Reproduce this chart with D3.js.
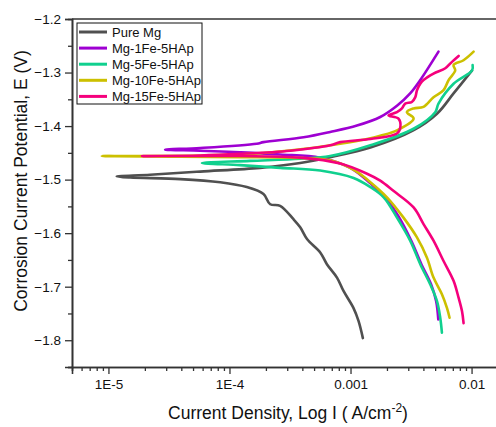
<!DOCTYPE html>
<html>
<head>
<meta charset="utf-8">
<script src="https://cdn.jsdelivr.net/npm/d3@7"></script>
<style>
  body { margin: 0; background: #fff; }
  svg { display: block; font-family: "Liberation Sans", Arial, sans-serif; }
</style>
</head>
<body>
<svg id="chart" width="496" height="427"></svg>
<script>
// series: [current density (A/cm2), potential (V)], cathodic end -> Ecorr -> anodic end
const seriesNames = ['Pure Mg', 'Mg-1Fe-5HAp', 'Mg-5Fe-5HAp', 'Mg-10Fe-5HAp', 'Mg-15Fe-5HAp'];
const seriesColors = ['#505050', '#9e00d2', '#10d08e', '#ccc000', '#f5007c'];

const pureMg = [
  [1.265e-3, -1.796], [1.164e-3, -1.764], [1.059e-3, -1.740], [8.75e-4, -1.708],
  [7.73e-4, -1.683], [6.38e-4, -1.658], [5.62e-4, -1.636], [4.37e-4, -1.611],
  [3.84e-4, -1.589], [3.38e-4, -1.574], [2.62e-4, -1.549], [2.17e-4, -1.546],
  [1.91e-4, -1.527], [1.39e-4, -1.514], [8.38e-5, -1.505], [3.92e-5, -1.499],
  [1.51e-5, -1.496], [1.17e-5, -1.494],
  [2.21e-5, -1.491], [5.73e-5, -1.485], [1.79e-4, -1.478], [3.84e-4, -1.469],
  [6.79e-4, -1.458], [1.46e-3, -1.440], [3.30e-3, -1.408], [5.18e-3, -1.377],
  [7.10e-3, -1.339], [1.01e-2, -1.296]
];

const mg1Fe = [
  [5.31e-3, -1.761], [5.10e-3, -1.727], [4.62e-3, -1.695], [3.85e-3, -1.658],
  [3.17e-3, -1.614], [2.48e-3, -1.568], [1.92e-3, -1.532], [1.46e-3, -1.507],
  [9.95e-4, -1.478], [5.62e-4, -1.459], [2.62e-4, -1.453], [1.22e-4, -1.449],
  [5.73e-5, -1.446], [2.94e-5, -1.444],
  [5.73e-5, -1.441], [1.68e-4, -1.433], [1.91e-4, -1.430], [4.09e-4, -1.421],
  [6.79e-4, -1.411], [1.13e-3, -1.399], [1.76e-3, -1.383], [2.42e-3, -1.362],
  [3.11e-3, -1.339], [3.77e-3, -1.314], [5.33e-3, -1.261]
];

const mg5Fe = [
  [5.69e-3, -1.786], [5.51e-3, -1.758], [5.18e-3, -1.727], [4.56e-3, -1.696],
  [3.77e-3, -1.658], [3.11e-3, -1.614], [2.42e-3, -1.571], [1.88e-3, -1.533],
  [1.46e-3, -1.514], [1.06e-3, -1.497], [5.62e-4, -1.483], [2.62e-4, -1.478],
  [1.22e-4, -1.473], [5.92e-5, -1.469],
  [1.48e-4, -1.465], [3.84e-4, -1.461], [6.79e-4, -1.456], [1.46e-3, -1.436],
  [3.32e-3, -1.405], [5.01e-3, -1.374], [5.33e-3, -1.358], [7.10e-3, -1.321],
  [1.01e-2, -1.296], [1.02e-2, -1.286]
];

const mg10Fe = [
  [6.58e-3, -1.758], [6.27e-3, -1.740], [5.69e-3, -1.714], [4.85e-3, -1.683],
  [4.28e-3, -1.646], [3.54e-3, -1.608], [2.74e-3, -1.571], [2.00e-3, -1.533],
  [1.41e-3, -1.502], [1.09e-3, -1.483], [6.79e-4, -1.464], [3.18e-4, -1.459],
  [1.22e-4, -1.458], [3.92e-5, -1.457], [8.81e-6, -1.456],
  [5.73e-5, -1.455], [1.48e-4, -1.452], [4.37e-4, -1.442], [8.22e-4, -1.433],
  [1.37e-3, -1.424], [1.76e-3, -1.418], [2.42e-3, -1.408], [3.32e-3, -1.386],
  [2.92e-3, -1.374], [3.32e-3, -1.367], [4.01e-3, -1.364], [4.85e-3, -1.346],
  [5.87e-3, -1.333], [6.46e-3, -1.314], [7.33e-3, -1.296], [7.10e-3, -1.286],
  [8.59e-3, -1.277], [1.04e-2, -1.261]
];

const mg15Fe = [
  [8.59e-3, -1.768], [8.34e-3, -1.746], [7.82e-3, -1.721], [7.10e-3, -1.689],
  [5.87e-3, -1.652], [4.85e-3, -1.614], [4.01e-3, -1.583], [3.32e-3, -1.552],
  [2.26e-3, -1.521], [1.76e-3, -1.502], [1.37e-3, -1.489], [8.22e-4, -1.470],
  [3.84e-4, -1.459], [1.22e-4, -1.456], [1.89e-5, -1.456],
  [5.73e-5, -1.455], [1.22e-4, -1.452], [3.18e-4, -1.446], [6.79e-4, -1.436],
  [8.22e-4, -1.430], [1.46e-3, -1.424], [2.42e-3, -1.414], [2.58e-3, -1.402],
  [2.49e-3, -1.386], [2.06e-3, -1.380], [2.42e-3, -1.374], [2.66e-3, -1.367],
  [2.83e-3, -1.358], [3.21e-3, -1.355], [3.43e-3, -1.346], [3.54e-3, -1.333],
  [3.77e-3, -1.321], [4.01e-3, -1.314], [4.85e-3, -1.302], [6.07e-3, -1.292],
  [6.89e-3, -1.280], [7.82e-3, -1.269]
];

const allSeries = [pureMg, mg1Fe, mg5Fe, mg10Fe, mg15Fe];

const xMajor = [1e-5, 1e-4, 1e-3, 1e-2];
const xMajorLabels = ['1E-5', '1E-4', '0.001', '0.01'];
const yMajor = [-1.8, -1.7, -1.6, -1.5, -1.4, -1.3, -1.2];

const svg = d3.select('#chart');

// plot box (right side runs off the picture, as in the original)
const plotLeft = 72, plotTop = 19, plotBottom = 367, plotRight = 508;

const x = d3.scaleLog().domain([5e-6, 2e-2]).range([plotLeft, plotRight]);
const y = d3.scaleLinear().domain([-1.85, -1.2]).range([plotBottom, plotTop]);

// minor x ticks: 2..9 of each decade
const xMinor = [];
[1e-6, 1e-5, 1e-4, 1e-3, 1e-2].forEach(d => {
  for (let k = 2; k <= 9; k++) {
    const v = d * k;
    if (v >= 5e-6 && v <= 2e-2) xMinor.push(v);
  }
});
const yMinor = d3.range(-1.85, -1.2, 0.1).map(v => +v.toFixed(2));

const axisColor = '#333';

// x axis
const xAxisMinor = d3.axisBottom(x).tickValues(xMinor).tickSize(4).tickFormat('');
const xAxis = d3.axisBottom(x).tickValues(xMajor).tickSize(7).tickPadding(5)
  .tickFormat((d, i) => xMajorLabels[i]);

svg.append('g').attr('transform', `translate(0,${plotBottom})`).call(xAxisMinor);
svg.append('g').attr('class', 'x-axis').attr('transform', `translate(0,${plotBottom})`).call(xAxis);

// y axis
const yAxisMinor = d3.axisLeft(y).tickValues(yMinor).tickSize(4).tickFormat('');
const yAxis = d3.axisLeft(y).tickValues(yMajor).tickSize(7).tickPadding(4)
  .tickFormat(d3.format('.1f'));

svg.append('g').attr('transform', `translate(${plotLeft},0)`).call(yAxisMinor);
svg.append('g').attr('class', 'y-axis').attr('transform', `translate(${plotLeft},0)`).call(yAxis);

svg.selectAll('.domain').attr('stroke', axisColor).attr('stroke-width', 1.6);
svg.selectAll('.tick line').attr('stroke', axisColor).attr('stroke-width', 1.3);
svg.selectAll('.tick text').attr('font-size', 13.5).attr('fill', '#111')
  .attr('font-family', '"Liberation Sans", Arial, sans-serif');

// top border
svg.append('line')
  .attr('x1', plotLeft).attr('x2', plotRight).attr('y1', plotTop).attr('y2', plotTop)
  .attr('stroke', axisColor).attr('stroke-width', 1.6);

// curves
const line = d3.line()
  .x(d => x(d[0]))
  .y(d => y(d[1]))
  .curve(d3.curveCatmullRom.alpha(0.5));

svg.append('g')
  .selectAll('path')
  .data(allSeries)
  .join('path')
  .attr('d', line)
  .attr('fill', 'none')
  .attr('stroke', (d, i) => seriesColors[i])
  .attr('stroke-width', 2.6)
  .attr('stroke-linejoin', 'round')
  .attr('stroke-linecap', 'round');

// legend
const legend = svg.append('g').attr('transform', 'translate(77,23)');
legend.append('rect')
  .attr('width', 125).attr('height', 81)
  .attr('fill', '#fff').attr('stroke', '#111').attr('stroke-width', 1);

seriesNames.forEach((name, i) => {
  const yy = 9 + i * 16.1;
  legend.append('line')
    .attr('x1', 2).attr('x2', 30).attr('y1', yy).attr('y2', yy)
    .attr('stroke', seriesColors[i]).attr('stroke-width', 3);
  legend.append('text')
    .attr('x', 35).attr('y', yy + 4.5)
    .attr('font-size', 13).attr('fill', '#111')
    .text(name);
});

// axis titles
svg.append('text')
  .attr('transform', 'translate(27,181) rotate(-90)')
  .attr('text-anchor', 'middle')
  .attr('font-size', 17.5).attr('fill', '#111')
  .text('Corrosion Current Potential, E (V)');

const xt = svg.append('text')
  .attr('x', 288).attr('y', 419)
  .attr('text-anchor', 'middle')
  .attr('font-size', 17.5).attr('fill', '#111');
xt.append('tspan').text('Current Density, Log I ( A/cm');
xt.append('tspan').attr('font-size', 12).attr('dy', -7).text('-2');
xt.append('tspan').attr('dy', 7).text(')');
</script>
</body>
</html>
